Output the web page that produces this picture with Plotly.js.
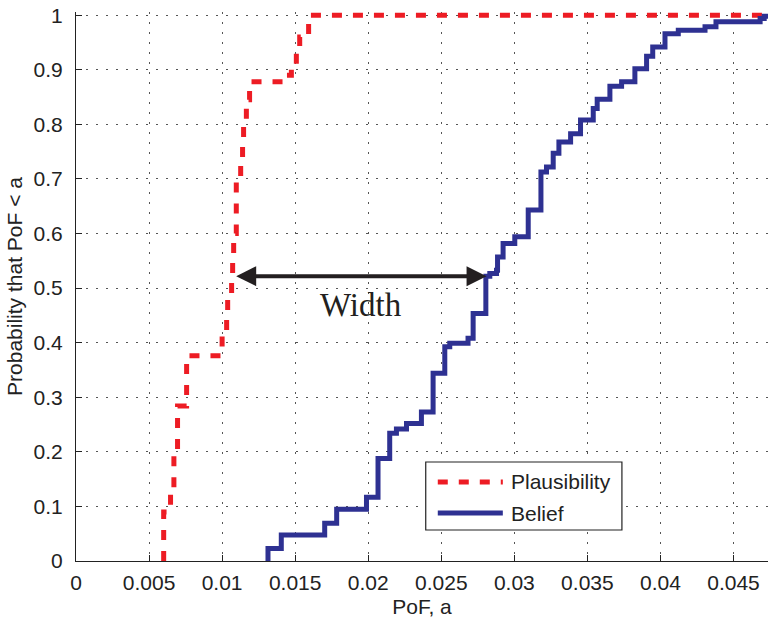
<!DOCTYPE html>
<html><head><meta charset="utf-8">
<script src="https://cdn.plot.ly/plotly-3.0.1.min.js"></script>
<style>html,body{margin:0;padding:0;background:#fff;}#chart{width:768px;height:619px;}</style>
</head><body><div id="chart"></div>
<script>
// Plausibility (upper CDF) step vertices: x = PoF, y = cumulative probability after jump
const plausX = [0.0060, 0.0060, 0.00647, 0.0067, 0.00695, 0.00757, 0.01000, 0.01031, 0.01038, 0.01065, 0.01072, 0.01079, 0.01097, 0.01127, 0.01140, 0.01147, 0.01166, 0.01188, 0.01442, 0.01474, 0.01508, 0.01531, 0.01592, 0.0480];
const plausY = [0, 0.09, 0.13, 0.20, 0.284, 0.376, 0.42, 0.455, 0.49, 0.52, 0.56, 0.60, 0.70, 0.735, 0.775, 0.80, 0.845, 0.878, 0.89, 0.91, 0.935, 0.96, 1.0, 1.0];
// Belief (lower CDF) step vertices
const beliefX = [0.01314, 0.01314, 0.01405, 0.01702, 0.01784, 0.01988, 0.02067, 0.02147, 0.02193, 0.02262, 0.02364, 0.02444, 0.02524, 0.02558, 0.02683, 0.02718, 0.02805, 0.02832, 0.02878, 0.02885, 0.02923, 0.03003, 0.03095, 0.03182, 0.03220, 0.03266, 0.03305, 0.03385, 0.03453, 0.03540, 0.03567, 0.03654, 0.03734, 0.03825, 0.03905, 0.03947, 0.04031, 0.04122, 0.04305, 0.04380, 0.04682, 0.04710, 0.0480];
const beliefY = [0, 0.023, 0.0476, 0.069, 0.095, 0.117, 0.188, 0.234, 0.242, 0.252, 0.273, 0.344, 0.3925, 0.399, 0.408, 0.4536, 0.522, 0.527, 0.533, 0.557, 0.582, 0.594, 0.643, 0.713, 0.722, 0.747, 0.768, 0.783, 0.808, 0.829, 0.846, 0.870, 0.878, 0.902, 0.925, 0.942, 0.966, 0.9725, 0.979, 0.988, 0.994, 0.998, 0.998];

const seriesNames = ['Plausibility', 'Belief'];
const xTickVals = [0, 0.005, 0.01, 0.015, 0.02, 0.025, 0.03, 0.035, 0.04, 0.045];
const xTickText = ['0', '0.005', '0.01', '0.015', '0.02', '0.025', '0.03', '0.035', '0.04', '0.045'];
const yTickVals = [0, 0.1, 0.2, 0.3, 0.4, 0.5, 0.6, 0.7, 0.8, 0.9, 1];
const yTickText = ['0', '0.1', '0.2', '0.3', '0.4', '0.5', '0.6', '0.7', '0.8', '0.9', '1'];

// "Width" annotation: horizontal distance between the curves at this probability level
const widthLevel = 0.522;
const widthFrom = 0.01086;
const widthTo = 0.0281;
const widthLabelX = 0.0195;
const widthLabelY = 0.47;

const RED = '#ED1C24';
const BLUE = '#2E3192';
const FONT = 'Liberation Sans, Arial, sans-serif';
const FS = 21;

const traces = [
  {x: plausX, y: plausY, type: 'scatter', mode: 'lines', name: seriesNames[0],
   line: {color: RED, width: 5, dash: '10px,11px', shape: 'hv'}, showlegend: false},
  {x: beliefX, y: beliefY, type: 'scatter', mode: 'lines', name: seriesNames[1],
   line: {color: BLUE, width: 5, shape: 'hv'}, showlegend: false}
];

// custom legend geometry (paper coordinates)
const lg = {x0: 0.5054, x1: 0.7889, y0: 0.0565, y1: 0.1803, sx0: 0.5228, sx1: 0.6168, tx: 0.6254, r1: 0.1439, r2: 0.0874};

const layout = {
  width: 768, height: 619,
  margin: {l: 76, r: 0, t: 12, b: 58},
  paper_bgcolor: '#fff', plot_bgcolor: '#fff',
  font: {family: FONT, size: FS, color: '#222'},
  xaxis: {
    range: [0, 0.04736], tickvals: xTickVals, ticktext: xTickText,
    ticks: 'inside', ticklen: 6, tickcolor: '#222', tickwidth: 1,
    showline: true, linecolor: '#222', linewidth: 1, zeroline: false,
    showgrid: true, gridcolor: '#555', gridwidth: 1, griddash: '2px,8px',
    tickfont: {family: FONT, size: FS, color: '#222'},
    ticklabelstandoff: 3,
    title: {text: 'PoF, a', font: {family: FONT, size: FS, color: '#222'}, standoff: 6}
  },
  yaxis: {
    range: [0, 1.006], tickvals: yTickVals, ticktext: yTickText,
    ticks: 'inside', ticklen: 6, tickcolor: '#222', tickwidth: 1,
    showline: true, linecolor: '#222', linewidth: 1, zeroline: false,
    showgrid: true, gridcolor: '#555', gridwidth: 1, griddash: '2px,8px',
    tickfont: {family: FONT, size: FS, color: '#222'},
    ticklabelstandoff: 8,
    title: {text: 'Probability that PoF < a', font: {family: FONT, size: FS, color: '#222'}, standoff: 5}
  },
  annotations: [
    {x: widthTo, y: widthLevel, ax: widthFrom, ay: widthLevel, xref: 'x', yref: 'y', axref: 'x', ayref: 'y',
     text: '', showarrow: true, arrowhead: 2, startarrowhead: 2, arrowside: 'end+start',
     arrowwidth: 4, arrowsize: 1, startarrowsize: 1, arrowcolor: '#231F20', standoff: 0, startstandoff: 0},
    {x: widthLabelX, y: widthLabelY, xref: 'x', yref: 'y', showarrow: false,
     text: 'Width', font: {family: 'Liberation Serif, Times New Roman, serif', size: 33, color: '#231F20'}},
    {x: lg.tx, y: lg.r1, xref: 'paper', yref: 'paper', xanchor: 'left', yanchor: 'middle', showarrow: false,
     text: seriesNames[0], font: {family: FONT, size: FS, color: '#222'}},
    {x: lg.tx, y: lg.r2, xref: 'paper', yref: 'paper', xanchor: 'left', yanchor: 'middle', showarrow: false,
     text: seriesNames[1], font: {family: FONT, size: FS, color: '#222'}}
  ],
  shapes: [
    {type: 'rect', xref: 'paper', yref: 'paper', x0: lg.x0, x1: lg.x1, y0: lg.y0, y1: lg.y1,
     line: {color: '#222', width: 1.2}, fillcolor: '#fff', layer: 'above'},
    {type: 'line', xref: 'paper', yref: 'paper', x0: lg.sx0, x1: lg.sx1, y0: lg.r1, y1: lg.r1,
     line: {color: RED, width: 5, dash: '10px,11px'}, layer: 'above'},
    {type: 'line', xref: 'paper', yref: 'paper', x0: lg.sx0, x1: lg.sx1, y0: lg.r2, y1: lg.r2,
     line: {color: BLUE, width: 5}, layer: 'above'}
  ]
};

Plotly.newPlot('chart', traces, layout, {displayModeBar: false, staticPlot: true});
</script>
</body></html>
